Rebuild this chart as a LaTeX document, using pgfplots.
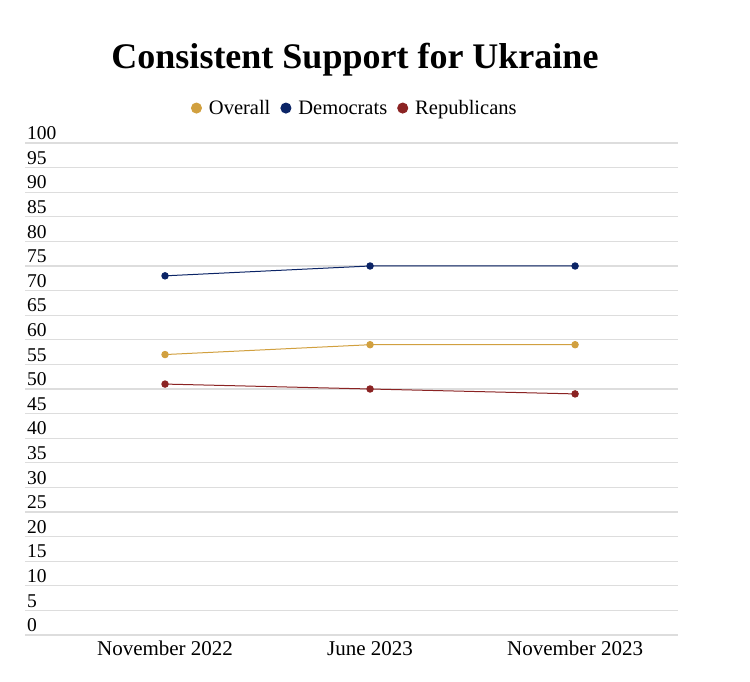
\documentclass[border=0pt]{standalone}
\usepackage{pgfplots}
\pgfplotsset{compat=1.18}
\usepackage{fontspec}
\setmainfont{Liberation Serif}

\definecolor{cgold}{HTML}{D1A03F}
\definecolor{cnavy}{HTML}{0B2466}
\definecolor{cred}{HTML}{8B2323}
\definecolor{cgrid}{HTML}{DDDDDD}

\begin{document}
\begin{tikzpicture}[x=1pt,y=1pt]
  \useasboundingbox (0,0) rectangle (750,682);
  \node[font=\fontsize{36}{40}\selectfont\bfseries] at (355,622) {Consistent Support for Ukraine};

  \begin{axis}[
    at={(25pt,47pt)}, anchor=south west,
    scale only axis,
    width=653pt, height=492pt,
    xmin=-0.683, xmax=2.502,
    ymin=0, ymax=100,
    xtick={0,1,2},
    xticklabels={November 2022, June 2023, November 2023},
    ytick={0,5,...,100},
    axis line style={draw=none},
    major tick length=0pt,
    ymajorgrids,
    grid style={cgrid, line width=1.2pt},
    yticklabel style={font=\fontsize{19.5}{22}\selectfont, anchor=south west, inner sep=0pt, xshift=2pt, yshift=3pt},
    xticklabel style={font=\fontsize{21}{24}\selectfont, anchor=north, inner sep=0pt, yshift=-6pt},
    /pgf/number format/assume math mode=true,
    legend columns=3,
    legend style={draw=none, fill=none, at={(0.505,1.071)}, anchor=center,
      font=\fontsize{20.5}{23}\selectfont, inner sep=0pt,
      /tikz/every odd column/.append style={column sep=5pt},
      /tikz/every even column/.append style={column sep=8pt}},
    legend image code/.code={\fill[#1] (0pt,0pt) circle (5pt);},
    every axis plot/.append style={line width=1pt, mark=*, mark size=3.2pt},
  ]
    \addplot[cgold] coordinates {(0,57) (1,59) (2,59)};
    \addlegendentry{Overall}
    \addplot[cnavy] coordinates {(0,73) (1,75) (2,75)};
    \addlegendentry{Democrats}
    \addplot[cred] coordinates {(0,51) (1,50) (2,49)};
    \addlegendentry{Republicans}
  \end{axis}
\end{tikzpicture}
\end{document}
